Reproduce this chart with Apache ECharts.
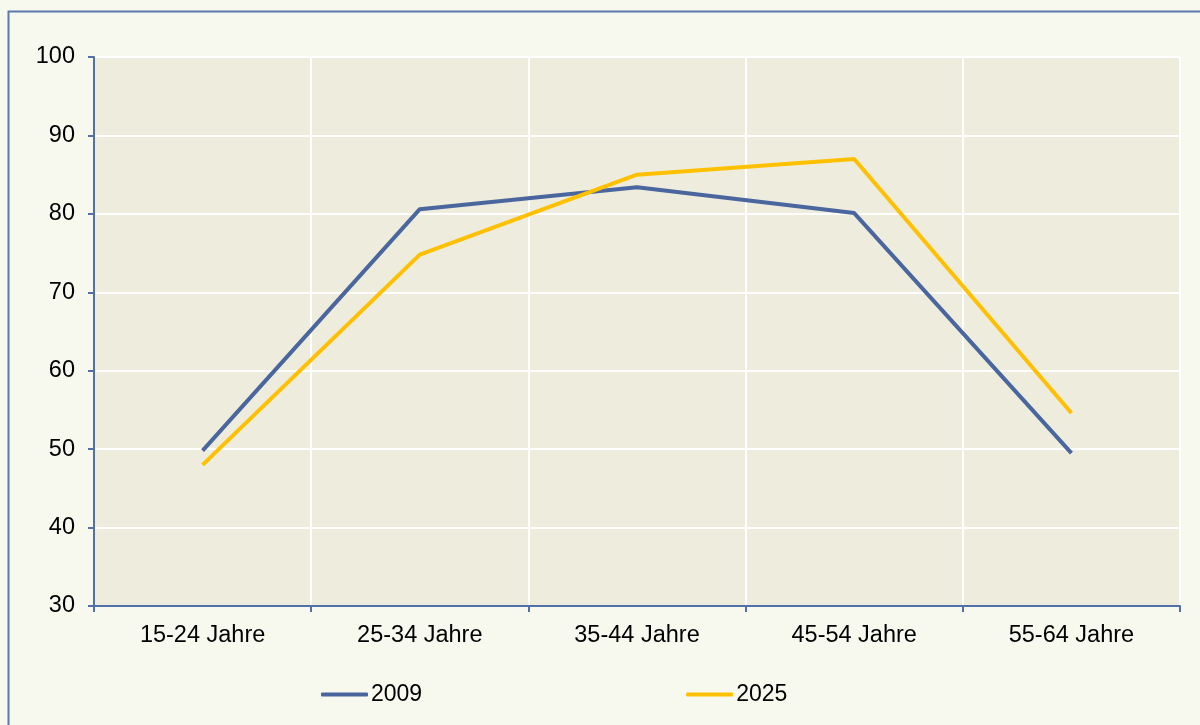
<!DOCTYPE html>
<html><head><meta charset="utf-8">
<script src="https://cdn.jsdelivr.net/npm/echarts@6/dist/echarts.min.js"></script>
<style>html,body{margin:0;padding:0;background:#F8F9EE}#c{width:1200px;height:725px}</style>
</head><body><div id="c"></div>
<script>
const categories = ['15-24 Jahre','25-34 Jahre','35-44 Jahre','45-54 Jahre','55-64 Jahre'];
const series2009 = [49.8, 80.6, 83.4, 80.1, 49.5];
const series2025 = [48.0, 74.8, 85.0, 87.0, 54.6];
const seriesNames = ['2009','2025'];

const axisColor = '#5270A8';
const font = 'Liberation Sans, Arial, sans-serif';
const chart = echarts.init(document.getElementById('c'));
chart.setOption({
  backgroundColor: '#F8F9EE',
  animation: false,
  graphic: [{type:'rect', shape:{x:8.5,y:11.5,width:1300,height:800}, style:{fill:'none', stroke:'#5C78AE', lineWidth:2}, silent:true}],
  grid: {left:94, top:57, right:20, bottom:119, show:true, backgroundColor:'#EEECDC', borderWidth:0},
  legend: {left:321, top:683, padding:0, itemWidth:47, itemHeight:4, itemGap:264, icon:'roundRect',
    textStyle:{fontFamily:font, fontSize:23, color:'#000', padding:[0,0,0,-2]},
    data: seriesNames},
  xAxis: {type:'category', data:categories, boundaryGap:true,
    axisLine:{lineStyle:{color:axisColor, width:2}},
    axisTick:{show:true, length:6, lineStyle:{color:axisColor, width:2}},
    axisLabel:{fontFamily:font, fontSize:23.5, color:'#000', margin:18},
    splitLine:{show:true, lineStyle:{color:'#FFFFFF', width:2}}},
  yAxis: {type:'value', min:30, max:100, interval:10,
    axisLine:{show:true, lineStyle:{color:axisColor, width:2}},
    axisTick:{show:true, length:6, lineStyle:{color:axisColor, width:2}},
    axisLabel:{fontFamily:font, fontSize:23.5, color:'#000', margin:19},
    splitLine:{show:true, lineStyle:{color:'#FFFFFF', width:2}}},
  series: [
    {name:seriesNames[0], type:'line', data:series2009, symbol:'none', lineStyle:{color:'#4A669E', width:4}, itemStyle:{color:'#4A669E'}},
    {name:seriesNames[1], type:'line', data:series2025, symbol:'none', lineStyle:{color:'#FFC000', width:4}, itemStyle:{color:'#FFC000'}}
  ]
});
</script></body></html>
